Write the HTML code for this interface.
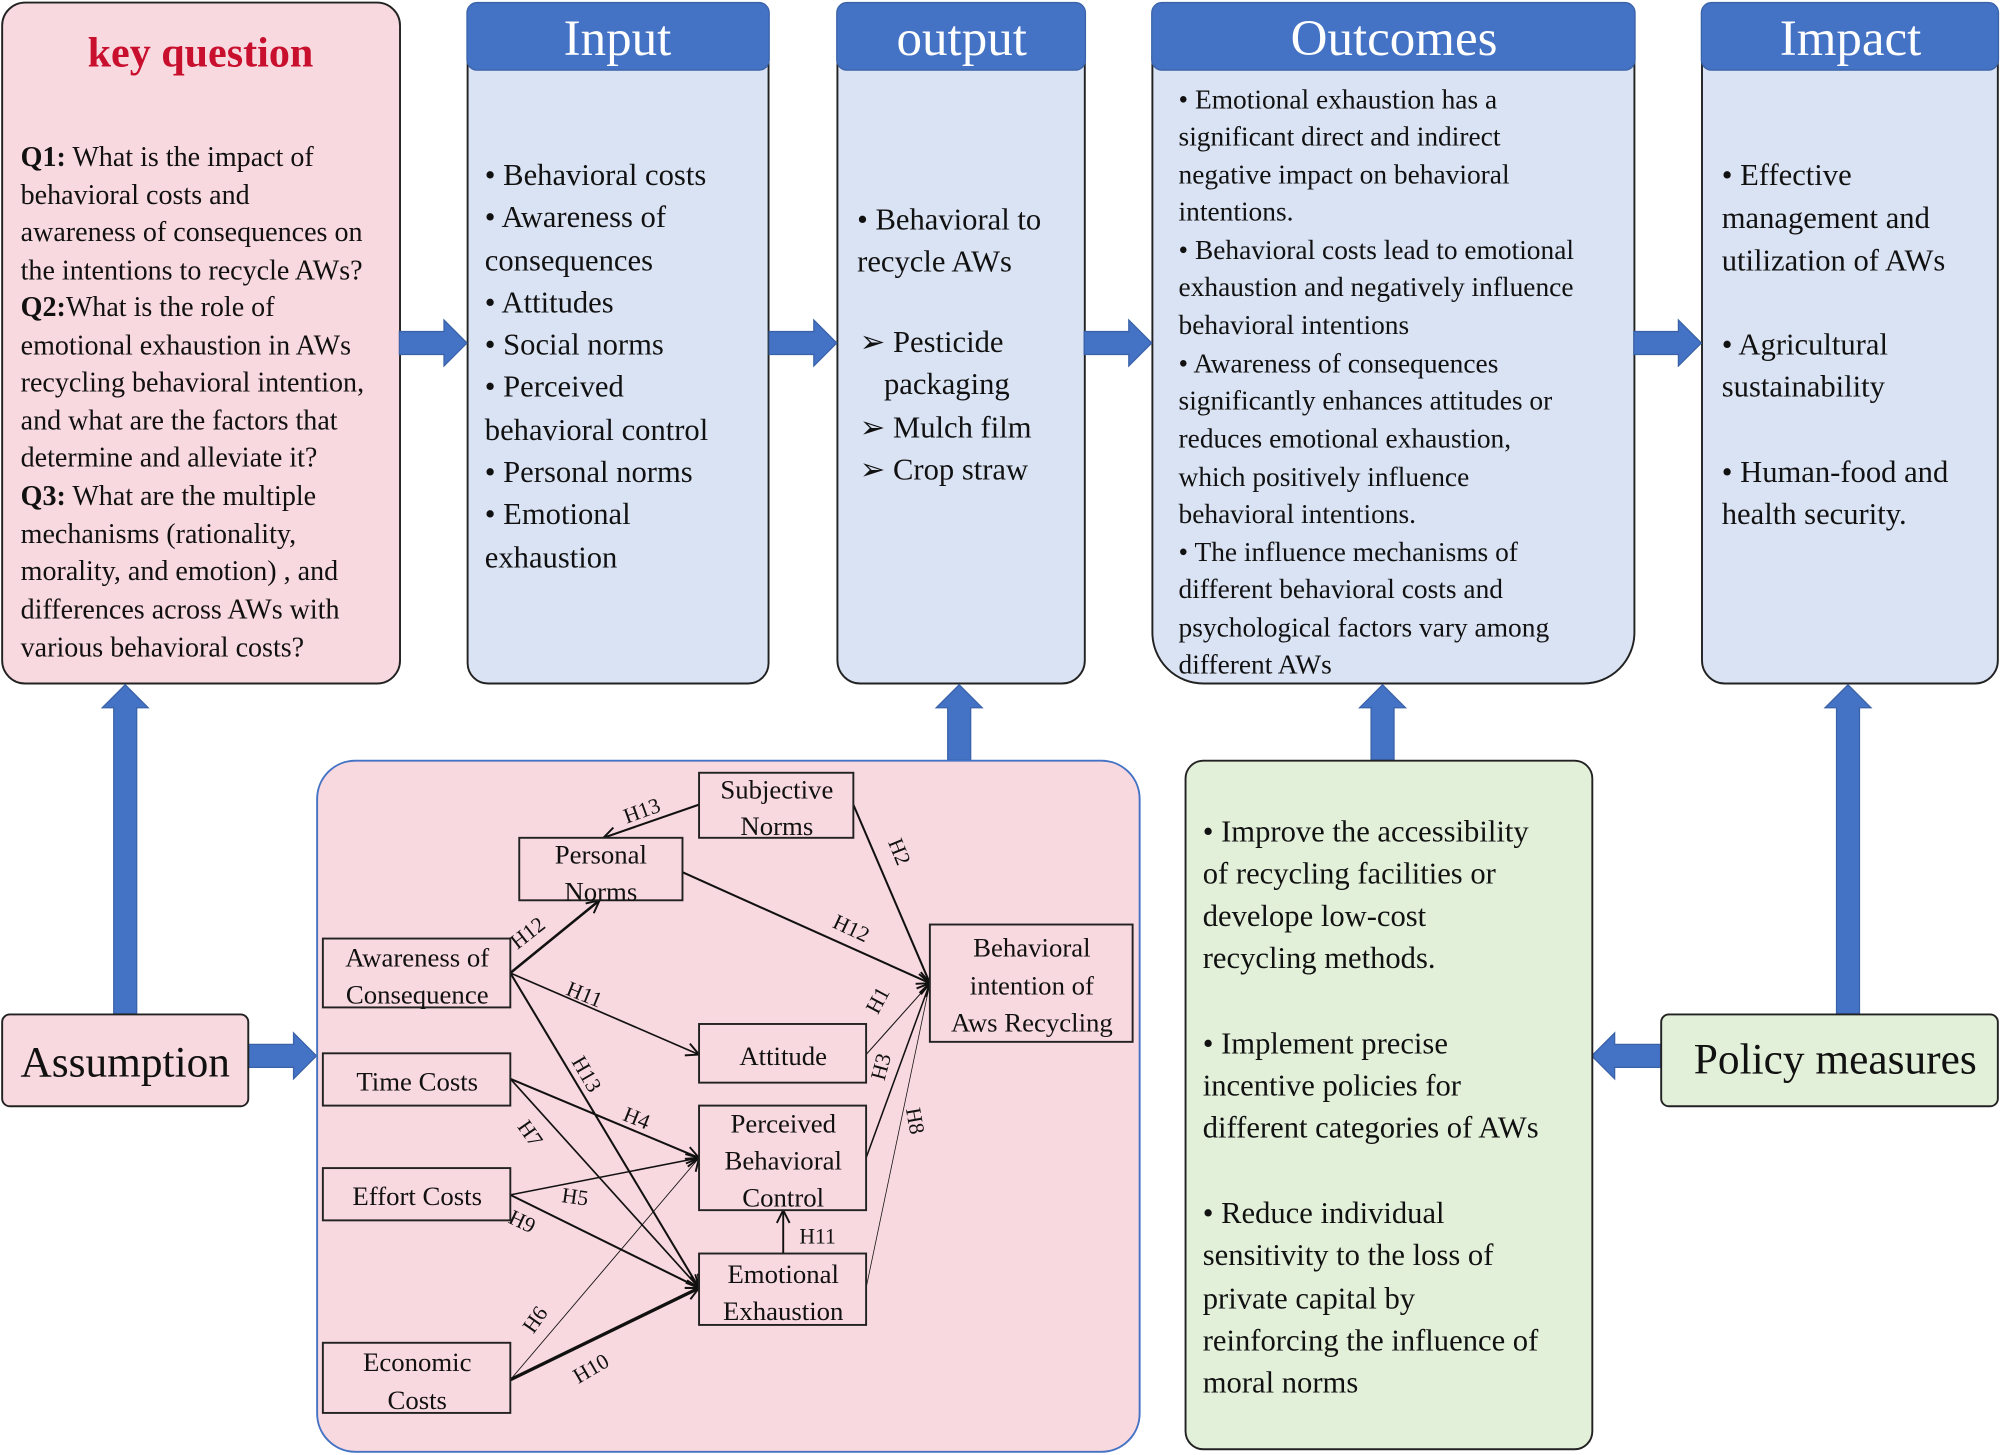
<!DOCTYPE html>
<html><head><meta charset="utf-8"><style>
html,body{margin:0;padding:0;background:#fff;}
svg{display:block;}
text{font-family:"Liberation Serif",serif;fill:#111;}
</style></head><body>
<svg width="2000" height="1455" viewBox="0 0 1568 1141" xmlns="http://www.w3.org/2000/svg">
<defs>
<marker id="ah" viewBox="0 0 12 12" refX="11" refY="6" markerWidth="12" markerHeight="12" markerUnits="userSpaceOnUse" orient="auto">
<path d="M1,1 L11,6 L1,11" fill="none" stroke="#111" stroke-width="1.5"/>
</marker>
</defs>

<rect x="1.5" y="2" width="312" height="534" rx="18" fill="#f8d9df" stroke="#222" stroke-width="1.5"/>
<text x="157" y="52" text-anchor="middle" font-size="33" font-weight="bold" style="fill:#c8102e">key question</text>
<g font-size="22">
<text x="16" y="130"><tspan font-weight="bold">Q1:</tspan> What is the impact of</text>
<text x="16" y="160">behavioral costs and</text>
<text x="16" y="189">awareness of consequences on</text>
<text x="16" y="219">the intentions to recycle AWs?</text>
<text x="16" y="248"><tspan font-weight="bold">Q2:</tspan>What is the role of</text>
<text x="16" y="278">emotional exhaustion in AWs</text>
<text x="16" y="307">recycling behavioral intention,</text>
<text x="16" y="337">and what are the factors that</text>
<text x="16" y="366">determine and alleviate it?</text>
<text x="16" y="396"><tspan font-weight="bold">Q3:</tspan> What are the multiple</text>
<text x="16" y="426">mechanisms (rationality,</text>
<text x="16" y="455">morality, and emotion) , and</text>
<text x="16" y="485">differences across AWs with</text>
<text x="16" y="515">various behavioral costs?</text>
</g>

<rect x="366.5" y="4" width="236" height="532" rx="16" fill="#dae3f3" stroke="#222" stroke-width="1.5"/>
<rect x="366" y="2" width="237" height="53" rx="8" fill="#4472c4" stroke="#3a62a8"/>
<text x="484" y="43" text-anchor="middle" font-size="40" style="fill:#fff">Input</text>
<g font-size="24">
<text x="380" y="145">• Behavioral costs</text>
<text x="380" y="178">• Awareness of</text>
<text x="380" y="212">consequences</text>
<text x="380" y="245">• Attitudes</text>
<text x="380" y="278">• Social norms</text>
<text x="380" y="311">• Perceived</text>
<text x="380" y="345">behavioral control</text>
<text x="380" y="378">• Personal norms</text>
<text x="380" y="411">• Emotional</text>
<text x="380" y="445">exhaustion</text>
</g>

<rect x="656.5" y="4" width="194" height="532" rx="18" fill="#dae3f3" stroke="#222" stroke-width="1.5"/>
<rect x="656" y="2" width="195" height="53" rx="8" fill="#4472c4" stroke="#3a62a8"/>
<text x="754" y="43" text-anchor="middle" font-size="40" style="fill:#fff">output</text>
<g font-size="24">
<text x="672" y="180">• Behavioral to</text>
<text x="672" y="213">recycle AWs</text>
<text x="674" y="276">➢  Pesticide</text>
<text x="693" y="309">packaging</text>
<text x="674" y="343">➢  Mulch film</text>
<text x="674" y="376">➢  Crop straw</text>
</g>

<rect x="903.5" y="4" width="378" height="532" rx="40" fill="#dae3f3" stroke="#222" stroke-width="1.5"/>
<rect x="903" y="2" width="379" height="53" rx="8" fill="#4472c4" stroke="#3a62a8"/>
<text x="1093" y="43" text-anchor="middle" font-size="40" style="fill:#fff">Outcomes</text>
<g font-size="21.5">
<text x="924" y="85">• Emotional exhaustion has a</text>
<text x="924" y="114">significant direct and indirect</text>
<text x="924" y="144">negative impact on behavioral</text>
<text x="924" y="173">intentions.</text>
<text x="924" y="203">• Behavioral costs lead to emotional</text>
<text x="924" y="232">exhaustion and negatively influence</text>
<text x="924" y="262">behavioral intentions</text>
<text x="924" y="292">• Awareness of consequences</text>
<text x="924" y="321">significantly enhances attitudes or</text>
<text x="924" y="351">reduces emotional exhaustion,</text>
<text x="924" y="381">which positively influence</text>
<text x="924" y="410">behavioral intentions.</text>
<text x="924" y="440">• The influence mechanisms of</text>
<text x="924" y="469">different behavioral costs and</text>
<text x="924" y="499">psychological factors vary among</text>
<text x="924" y="528">different AWs</text>
</g>

<rect x="1334.5" y="4" width="232" height="532" rx="18" fill="#dae3f3" stroke="#222" stroke-width="1.5"/>
<rect x="1334" y="2" width="233" height="53" rx="8" fill="#4472c4" stroke="#3a62a8"/>
<text x="1451" y="43" text-anchor="middle" font-size="40" style="fill:#fff">Impact</text>
<g font-size="24">
<text x="1350" y="145">• Effective</text>
<text x="1350" y="179">management and</text>
<text x="1350" y="212">utilization of AWs</text>
<text x="1350" y="278">• Agricultural</text>
<text x="1350" y="311">sustainability</text>
<text x="1350" y="378">• Human-food and</text>
<text x="1350" y="411">health security.</text>
</g>

<g fill="#4472c4" stroke="#3a62a8" stroke-width="1">
<polygon points="313,260 348,260 348,251 366,269 348,287 348,278 313,278"/>
<polygon points="603,260 638,260 638,251 656,269 638,287 638,278 603,278"/>
<polygon points="850,260 885,260 885,251 903,269 885,287 885,278 850,278"/>
<polygon points="1281,260 1316,260 1316,251 1334,269 1316,287 1316,278 1281,278"/>
<polygon points="194,819 230,819 230,810 248,828 230,846 230,837 194,837"/>
<polygon points="1302,819 1266,819 1266,810 1248,828 1266,846 1266,837 1302,837"/>
<polygon points="89,795 89,555 80,555 98,537 116,555 107,555 107,795"/>
<polygon points="743,596 743,555 734,555 752,537 770,555 761,555 761,596"/>
<polygon points="1075,596 1075,555 1066,555 1084,537 1102,555 1093,555 1093,596"/>
<polygon points="1440,795 1440,555 1431,555 1449,537 1467,555 1458,555 1458,795"/>
</g>

<rect x="1.5" y="795.5" width="193" height="72" rx="6" fill="#f8d9df" stroke="#222" stroke-width="1.5"/>
<text x="98" y="844" text-anchor="middle" font-size="34">Assumption</text>

<rect x="1302.5" y="795.5" width="264" height="72" rx="6" fill="#e2efd9" stroke="#222" stroke-width="1.5"/>
<text x="1439" y="842" text-anchor="middle" font-size="34">Policy measures</text>

<rect x="929.5" y="596.5" width="319" height="540" rx="14" fill="#e2efd9" stroke="#222" stroke-width="1.5"/>
<g font-size="24">
<text x="943" y="660">• Improve the accessibility</text>
<text x="943" y="693">of recycling facilities or</text>
<text x="943" y="726">develope low-cost</text>
<text x="943" y="759">recycling methods.</text>
<text x="943" y="826">• Implement precise</text>
<text x="943" y="859">incentive policies for</text>
<text x="943" y="892">different categories of AWs</text>
<text x="943" y="959">• Reduce individual</text>
<text x="943" y="992">sensitivity to the loss of</text>
<text x="943" y="1026">private capital by</text>
<text x="943" y="1059">reinforcing the influence of</text>
<text x="943" y="1092">moral norms</text>
</g>

<rect x="248.5" y="596.5" width="645" height="542" rx="30" fill="#f8d9df" stroke="#4472c4" stroke-width="1.5"/>

<g stroke="#111" fill="none" marker-end="url(#ah)">
<line x1="548" y1="631" x2="473" y2="657" stroke-width="1.6"/>
<line x1="669" y1="631" x2="729" y2="771" stroke-width="1.6"/>
<line x1="535" y1="684" x2="729" y2="771" stroke-width="1.6"/>
<line x1="400" y1="763" x2="470" y2="706" stroke-width="2"/>
<line x1="400" y1="763" x2="548" y2="827" stroke-width="1.3"/>
<line x1="400" y1="763" x2="548" y2="1010" stroke-width="1.6"/>
<line x1="400" y1="846" x2="548" y2="908" stroke-width="1.6"/>
<line x1="400" y1="846" x2="548" y2="1010" stroke-width="1.3"/>
<line x1="400" y1="937" x2="548" y2="908" stroke-width="1.2"/>
<line x1="400" y1="937" x2="548" y2="1010" stroke-width="1.6"/>
<line x1="400" y1="1082" x2="548" y2="908" stroke-width="0.7"/>
<line x1="400" y1="1082" x2="548" y2="1010" stroke-width="2.6"/>
<line x1="614" y1="983" x2="614" y2="949" stroke-width="1.5"/>
<line x1="679" y1="827" x2="729" y2="771" stroke-width="0.8"/>
<line x1="679" y1="908" x2="729" y2="771" stroke-width="1.2"/>
<line x1="679" y1="1010" x2="729" y2="771" stroke-width="0.6"/>
</g>

<g fill="#f8d9df" stroke="#222" stroke-width="1.5">
<rect x="548" y="606" width="121" height="51"/>
<rect x="407" y="657" width="128" height="49"/>
<rect x="253" y="736" width="147" height="54"/>
<rect x="253" y="826" width="147" height="41"/>
<rect x="253" y="916" width="147" height="41"/>
<rect x="253" y="1053" width="147" height="55"/>
<rect x="548" y="803" width="131" height="46"/>
<rect x="548" y="867" width="131" height="82"/>
<rect x="548" y="983" width="131" height="56"/>
<rect x="729" y="725" width="159" height="92"/>
</g>
<g font-size="21" text-anchor="middle">
<text x="609" y="626">Subjective</text>
<text x="609" y="655">Norms</text>
<text x="471" y="677">Personal</text>
<text x="471" y="706">Norms</text>
<text x="327" y="758">Awareness of</text>
<text x="327" y="787">Consequence</text>
<text x="327" y="855">Time Costs</text>
<text x="327" y="945">Effort Costs</text>
<text x="327" y="1075">Economic</text>
<text x="327" y="1105">Costs</text>
<text x="614" y="835">Attitude</text>
<text x="614" y="888">Perceived</text>
<text x="614" y="917">Behavioral</text>
<text x="614" y="946">Control</text>
<text x="614" y="1006">Emotional</text>
<text x="614" y="1035">Exhaustion</text>
<text x="809" y="750">Behavioral</text>
<text x="809" y="780">intention of</text>
<text x="809" y="809">Aws Recycling</text>
</g>
<g font-size="17" text-anchor="middle">
<text transform="translate(505,641) rotate(-20)">H13</text>
<text transform="translate(700,670) rotate(68)">H2</text>
<text transform="translate(665,733) rotate(25)">H12</text>
<text transform="translate(417,736) rotate(-38)">H12</text>
<text transform="translate(456,785) rotate(22)">H11</text>
<text transform="translate(455,845) rotate(60)">H13</text>
<text transform="translate(497,882) rotate(22)">H4</text>
<text transform="translate(411,892) rotate(55)">H7</text>
<text transform="translate(450,944) rotate(8)">H5</text>
<text transform="translate(407,963) rotate(25)">H9</text>
<text transform="translate(424,1038) rotate(-55)">H6</text>
<text transform="translate(466,1078) rotate(-30)">H10</text>
<text x="641" y="975">H11</text>
<text transform="translate(693,787) rotate(-62)">H1</text>
<text transform="translate(696,838) rotate(-75)">H3</text>
<text transform="translate(712,880) rotate(80)">H8</text>
</g>
</svg>
</body></html>
